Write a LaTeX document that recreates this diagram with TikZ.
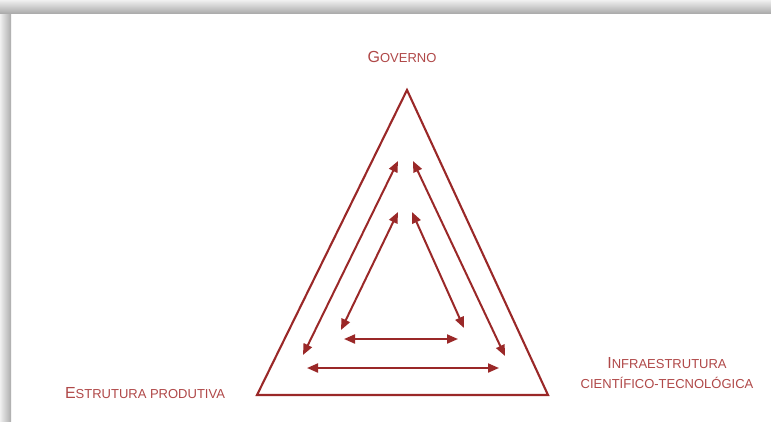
\documentclass[tikz,border=0pt]{standalone}
\usepackage{fontspec}
\setmainfont{Liberation Sans}
\usetikzlibrary{arrows.meta}
\definecolor{linered}{HTML}{9A2828}
\definecolor{textred}{HTML}{B04848}
\newcommand{\bigc}[1]{{\fontsize{16}{18}\selectfont #1}}
\newcommand{\smc}[1]{{\fontsize{13}{15}\selectfont #1}}
\tikzset{
  frame/.style={line width=2.1pt, draw=linered, line join=miter},
  biarrow/.style={line width=2pt, draw=linered, {Triangle[length=11pt,width=9pt]}-{Triangle[length=11pt,width=9pt]}},
  lbl/.style={text=textred, inner sep=0pt, align=center, font=\fontsize{13}{20}\selectfont}
}
\begin{document}
\begin{tikzpicture}[x=1pt,y=-1pt]
\useasboundingbox (0,0) rectangle (771,421);
\fill[white] (0,0) rectangle (771,421);
% shadow frame
\shade[left color=gray!12, right color=gray!65] (0,0) rectangle (11,421);
\shade[top color=gray!12, bottom color=gray!65] (0,0) rectangle (771,13);
% triangle corners
\coordinate (top) at (407,90);
\coordinate (bl) at (257,395);
\coordinate (br) at (548,395);
\draw[frame] (top) -- (bl) -- (br) -- cycle;
% arrow ends
\coordinate (l1a) at (398,161); \coordinate (l1b) at (303,355);
\coordinate (l2a) at (398,212); \coordinate (l2b) at (341,330);
\coordinate (r1a) at (413,161); \coordinate (r1b) at (505,356);
\coordinate (r2a) at (412,212); \coordinate (r2b) at (464,328);
\coordinate (b1a) at (344,339); \coordinate (b1b) at (458,339);
\coordinate (b2a) at (307,368); \coordinate (b2b) at (499,368);
\draw[biarrow] (l1a) -- (l1b);
\draw[biarrow] (l2a) -- (l2b);
\draw[biarrow] (r1a) -- (r1b);
\draw[biarrow] (r2a) -- (r2b);
\draw[biarrow] (b1a) -- (b1b);
\draw[biarrow] (b2a) -- (b2b);
% labels
\node[lbl] (gov) at (402,57) {\bigc{G}\smc{OVERNO}};
\node[lbl] (est) at (145,393) {\bigc{E}\smc{STRUTURA PRODUTIVA}};
\node[lbl] (inf) at (667,373) {\bigc{I}\smc{NFRAESTRUTURA}\\\smc{CIENTÍFICO-TECNOLÓGICA}};
\end{tikzpicture}
\end{document}
